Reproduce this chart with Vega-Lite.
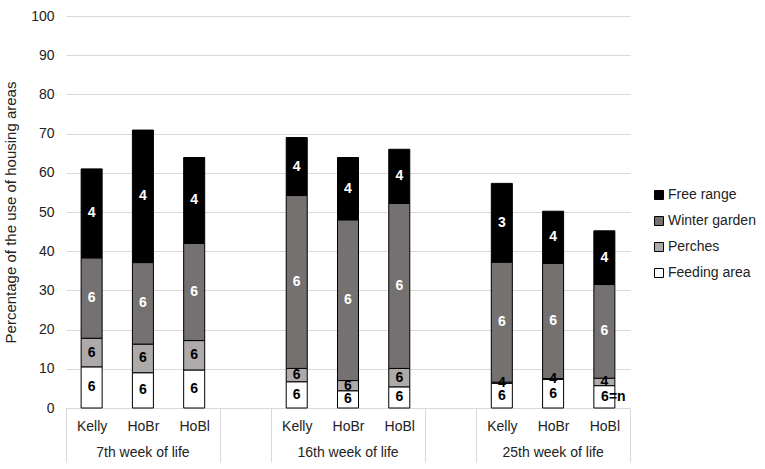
{
  "$schema": "https://vega.github.io/schema/vega-lite/v6.json",
  "width": 564,
  "height": 392,
  "autosize": {"type": "none"},
  "padding": {"left": 66, "top": 16, "right": 135, "bottom": 61},
  "data": {
    "values": [
      {"slot": "7|Kelly", "area": "Feeding area", "value": 10.5, "n": "6"},
      {"slot": "7|Kelly", "area": "Perches", "value": 7.3, "n": "6"},
      {"slot": "7|Kelly", "area": "Winter garden", "value": 20.5, "n": "6"},
      {"slot": "7|Kelly", "area": "Free range", "value": 22.7, "n": "4"},
      {"slot": "7|HoBr", "area": "Feeding area", "value": 9.0, "n": "6"},
      {"slot": "7|HoBr", "area": "Perches", "value": 7.3, "n": "6"},
      {"slot": "7|HoBr", "area": "Winter garden", "value": 20.8, "n": "6"},
      {"slot": "7|HoBr", "area": "Free range", "value": 33.8, "n": "4"},
      {"slot": "7|HoBl", "area": "Feeding area", "value": 9.7, "n": "6"},
      {"slot": "7|HoBl", "area": "Perches", "value": 7.5, "n": "6"},
      {"slot": "7|HoBl", "area": "Winter garden", "value": 24.8, "n": "6"},
      {"slot": "7|HoBl", "area": "Free range", "value": 21.9, "n": "4"},
      {"slot": "16|Kelly", "area": "Feeding area", "value": 6.7, "n": "6"},
      {"slot": "16|Kelly", "area": "Perches", "value": 3.4, "n": "6"},
      {"slot": "16|Kelly", "area": "Winter garden", "value": 44.1, "n": "6"},
      {"slot": "16|Kelly", "area": "Free range", "value": 14.8, "n": "4"},
      {"slot": "16|HoBr", "area": "Feeding area", "value": 4.4, "n": "6"},
      {"slot": "16|HoBr", "area": "Perches", "value": 2.6, "n": "6"},
      {"slot": "16|HoBr", "area": "Winter garden", "value": 41.0, "n": "6"},
      {"slot": "16|HoBr", "area": "Free range", "value": 15.9, "n": "4"},
      {"slot": "16|HoBl", "area": "Feeding area", "value": 5.4, "n": "6"},
      {"slot": "16|HoBl", "area": "Perches", "value": 4.7, "n": "6"},
      {"slot": "16|HoBl", "area": "Winter garden", "value": 42.1, "n": "6"},
      {"slot": "16|HoBl", "area": "Free range", "value": 13.8, "n": "4"},
      {"slot": "25|Kelly", "area": "Feeding area", "value": 6.3, "n": "6"},
      {"slot": "25|Kelly", "area": "Perches", "value": 0.3, "n": "4"},
      {"slot": "25|Kelly", "area": "Winter garden", "value": 30.6, "n": "6"},
      {"slot": "25|Kelly", "area": "Free range", "value": 20.1, "n": "3"},
      {"slot": "25|HoBr", "area": "Feeding area", "value": 7.3, "n": "6"},
      {"slot": "25|HoBr", "area": "Perches", "value": 0.2, "n": "4"},
      {"slot": "25|HoBr", "area": "Winter garden", "value": 29.4, "n": "6"},
      {"slot": "25|HoBr", "area": "Free range", "value": 13.3, "n": "4"},
      {"slot": "25|HoBl", "area": "Feeding area", "value": 5.7, "n": "6=n"},
      {"slot": "25|HoBl", "area": "Perches", "value": 1.9, "n": "4"},
      {"slot": "25|HoBl", "area": "Winter garden", "value": 23.9, "n": "6"},
      {"slot": "25|HoBl", "area": "Free range", "value": 13.7, "n": "4"}
    ]
  },
  "transform": [
    {"calculate": "datum.area == 'Feeding area' ? 0 : datum.area == 'Perches' ? 1 : datum.area == 'Winter garden' ? 2 : 3", "as": "stackOrder"},
    {"stack": "value", "groupby": ["slot"], "sort": [{"field": "stackOrder", "order": "ascending"}], "as": ["v0", "v1"]},
    {"calculate": "(datum.v0 + datum.v1) / 2", "as": "vmid"}
  ],
  "encoding": {
    "x": {
      "field": "slot",
      "type": "nominal",
      "sort": null,
      "scale": {
        "domain": ["7|Kelly", "7|HoBr", "7|HoBl", "gap1", "16|Kelly", "16|HoBr", "16|HoBl", "gap2", "25|Kelly", "25|HoBr", "25|HoBl"],
        "paddingInner": 0,
        "paddingOuter": 0
      },
      "axis": {
        "title": null,
        "labelAngle": 0,
        "labelFontSize": 14,
        "labelColor": "#222222",
        "labelBaseline": "top",
        "labelPadding": -43,
        "tickBand": "extent",
        "tickSize": 54,
        "tickColor": {
          "condition": {"test": "datum.extra || datum.value == '7|HoBl' || datum.value == 'gap1' || datum.value == '16|HoBl' || datum.value == 'gap2' || datum.value == '25|HoBl'", "value": "#d9d9d9"},
          "value": "transparent"
        },
        "domainColor": "#d9d9d9",
        "labelExpr": "(datum.value == 'gap1' || datum.value == 'gap2') ? '' : split(datum.value, '|')[1]"
      }
    }
  },
  "layer": [
    {
      "mark": {"type": "bar", "stroke": "black", "strokeWidth": 1, "width": {"band": 0.41}},
      "encoding": {
        "y": {
          "field": "v0",
          "type": "quantitative",
          "scale": {"domain": [0, 100]},
          "axis": {"title": "Percentage of the use of housing areas"}
        },
        "y2": {"field": "v1"},
        "color": {
          "field": "area",
          "type": "nominal",
          "scale": {
            "domain": ["Free range", "Winter garden", "Perches", "Feeding area"],
            "range": ["#000000", "#767171", "#aeaaaa", "#ffffff"]
          },
          "legend": {
            "title": null,
            "orient": "none",
            "legendX": 586,
            "legendY": 172,
            "padding": 0,
            "symbolType": "square",
            "symbolSize": 81,
            "symbolStrokeColor": "black",
            "symbolStrokeWidth": 1,
            "symbolOpacity": 1,
            "labelFontSize": 14,
            "labelColor": "#222222",
            "labelOffset": 2,
            "rowPadding": 12
          }
        }
      }
    },
    {
      "transform": [{"filter": "datum.n != '6=n'"}],
      "mark": {"type": "text", "fontSize": 14, "fontWeight": "bold", "baseline": "middle"},
      "encoding": {
        "y": {"field": "vmid", "type": "quantitative"},
        "text": {"field": "n"},
        "color": {
          "condition": {"test": "datum.area == 'Free range' || datum.area == 'Winter garden'", "value": "white"},
          "value": "black"
        }
      }
    },
    {
      "transform": [{"filter": "datum.n == '6=n'"}],
      "mark": {"type": "text", "fontSize": 14, "fontWeight": "bold", "baseline": "middle", "dx": 9, "color": "black"},
      "encoding": {
        "y": {"field": "vmid", "type": "quantitative"},
        "text": {"field": "n"}
      }
    },
    {
      "data": {
        "values": [
          {"slot": "7|HoBr", "week": "7th week of life"},
          {"slot": "16|HoBr", "week": "16th week of life"},
          {"slot": "25|HoBr", "week": "25th week of life"}
        ]
      },
      "mark": {"type": "text", "fontSize": 14, "baseline": "middle", "color": "#222222"},
      "encoding": {
        "y": {"datum": -11.5, "type": "quantitative"},
        "text": {"field": "week"}
      }
    }
  ],
  "config": {
    "font": "Liberation Sans",
    "view": {"stroke": "transparent"},
    "axisY": {
      "tickCount": 10,
      "titleFontSize": 15,
      "titleFontWeight": "normal",
      "titleColor": "#222222",
      "titlePadding": 12,
      "labelFontSize": 14,
      "labelColor": "#222222",
      "labelPadding": 12,
      "domain": false,
      "ticks": false,
      "gridColor": "#d9d9d9"
    }
  }
}
